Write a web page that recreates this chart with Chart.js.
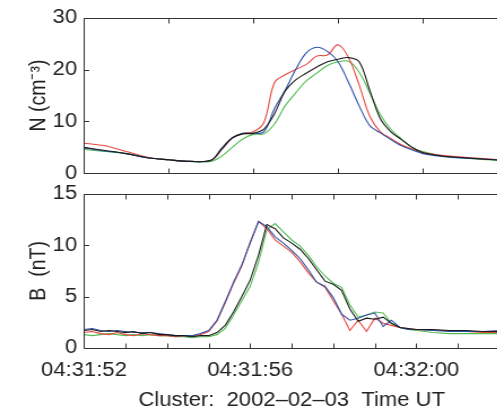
<!DOCTYPE html>
<html>
<head>
<meta charset="utf-8">
<script src="https://cdn.jsdelivr.net/npm/chart.js@4"></script>
<style>
  html, body { margin: 0; padding: 0; background: #fff; overflow: hidden; width: 497px; height: 410px; }
  canvas { position: absolute; left: 0; transform: scaleX(1.13); transform-origin: 0 0; }
  #nChart { top: 0; }
  #bChart { top: 176px; }
</style>
</head>
<body>
<canvas id="nChart" width="453" height="191"></canvas>
<canvas id="bChart" width="453" height="234"></canvas>
<script>
// время в секундах после 04:31:52
const tN = [0, 0.5, 1, 1.5, 2, 2.5, 3, 3.25, 3.5, 3.75, 4, 4.25, 4.5, 4.75, 5, 5.25, 5.5, 5.75, 6, 6.25, 6.5, 6.75, 7, 7.25, 7.5, 7.75, 8, 8.5, 9, 9.5, 10];
const nC1 = [5.0, 4.4, 3.8, 3.0, 2.6, 2.3, 2.5, 4.8, 6.8, 7.6, 7.7, 8.5, 11.5, 15.8, 18.0, 19.3, 20.5, 21.5, 22.0, 22.3, 21.5, 16.0, 10.5, 8.0, 6.5, 5.0, 4.0, 3.3, 3.0, 2.7, 2.4];
const nC2 = [5.8, 5.3, 4.2, 3.1, 2.6, 2.3, 2.5, 4.5, 6.8, 7.7, 8.0, 9.8, 17.5, 19.0, 20.0, 21.0, 22.6, 22.8, 24.8, 22.3, 17.0, 11.0, 8.0, 6.7, 5.5, 4.7, 4.0, 3.4, 3.1, 2.8, 2.5];
const nC3 = [4.6, 4.2, 3.8, 3.0, 2.6, 2.3, 2.3, 3.3, 5.0, 6.6, 7.5, 7.6, 9.5, 13.0, 15.5, 17.8, 19.3, 20.8, 21.5, 21.6, 19.5, 15.5, 11.3, 8.5, 6.6, 5.0, 4.2, 3.3, 2.9, 2.6, 2.4];
const nC4 = [4.9, 4.3, 3.8, 3.0, 2.6, 2.3, 2.5, 4.6, 6.8, 7.7, 7.7, 8.0, 12.5, 16.0, 20.0, 23.2, 24.3, 23.5, 21.5, 17.5, 13.0, 9.2, 7.8, 6.5, 5.3, 4.5, 3.8, 3.2, 2.9, 2.7, 2.5];

const tB = [0, 0.2, 0.4, 0.6, 0.8, 1, 1.2, 1.4, 1.6, 1.8, 2, 2.2, 2.4, 2.6, 2.8, 3, 3.2, 3.4, 3.6, 3.8, 4, 4.2, 4.4, 4.6, 4.8, 5, 5.2, 5.4, 5.6, 5.8, 6, 6.2, 6.4, 6.6, 6.8, 7, 7.2, 7.4, 7.6, 7.8, 8, 8.4, 8.8, 9.2, 9.6, 10];
const bC1 = [1.7, 1.8, 1.6, 1.7, 1.6, 1.5, 1.6, 1.4, 1.5, 1.3, 1.3, 1.2, 1.2, 1.1, 1.2, 1.2, 1.5, 2.2, 3.5, 5.0, 6.6, 9.0, 12.0, 11.6, 10.7, 10.2, 9.6, 8.7, 7.6, 6.5, 6.2, 5.6, 3.8, 2.6, 2.9, 2.8, 3.0, 2.4, 2.0, 1.9, 1.8, 1.8, 1.7, 1.7, 1.6, 1.6];
const bC2 = [1.5, 1.6, 1.4, 1.3, 1.5, 1.3, 1.2, 1.4, 1.3, 1.2, 1.2, 1.1, 1.2, 1.2, 1.3, 1.6, 2.6, 4.4, 6.3, 8.0, 10.3, 12.3, 11.6, 10.5, 9.9, 9.3, 8.4, 7.3, 6.4, 5.9, 4.6, 3.3, 1.7, 2.7, 1.6, 2.9, 2.4, 2.2, 2.0, 1.9, 1.8, 1.7, 1.7, 1.6, 1.5, 1.5];
const bC3 = [1.3, 1.2, 1.3, 1.4, 1.3, 1.2, 1.3, 1.2, 1.3, 1.2, 1.2, 1.1, 1.1, 1.0, 1.1, 1.1, 1.3, 1.9, 3.2, 4.6, 6.0, 8.3, 11.5, 12.1, 11.3, 10.5, 9.9, 9.0, 7.9, 7.0, 6.3, 5.9, 4.2, 3.0, 3.2, 3.5, 3.4, 2.4, 2.0, 1.8, 1.7, 1.5, 1.4, 1.4, 1.4, 1.4];
const bC4 = [1.8, 1.9, 1.7, 1.6, 1.7, 1.6, 1.5, 1.5, 1.5, 1.4, 1.3, 1.2, 1.2, 1.2, 1.4, 1.7, 2.7, 4.5, 6.4, 8.1, 10.2, 12.3, 11.8, 10.8, 10.2, 9.5, 8.7, 7.6, 6.4, 6.0, 4.9, 3.3, 2.7, 2.9, 3.2, 3.4, 2.1, 2.7, 2.0, 1.8, 1.8, 1.7, 1.6, 1.6, 1.6, 1.7];

// подписи оси времени
const labelTimes = [0, 4, 8];
const labelTexts = ['04:31:52', '04:31:56', '04:32:00'];

// C1 чёрный, C2 красный, C3 зелёный, C4 синий
const scColors = ['#1a1a1a', '#e5483f', '#52bd52', '#2f52a8'];
const FONT = "'Liberation Sans', Arial, Helvetica, sans-serif";

// рамка и внутренние засечки в стиле Matlab
const framePlugin = {
    id: 'frame',
    afterDatasetsDraw(chart) {
        const { ctx, chartArea: a, scales: { x, y } } = chart;
        ctx.save();
        ctx.strokeStyle = '#333';
        ctx.lineWidth = 1;
        const L = Math.round(a.left) + 0.5, T = Math.round(a.top) + 0.5, B = Math.round(a.bottom) + 0.5;
        ctx.beginPath();
        ctx.moveTo(chart.width, T); ctx.lineTo(L, T); ctx.lineTo(L, B); ctx.lineTo(chart.width, B);
        x.ticks.forEach(t => {
            const px = Math.round(x.getPixelForValue(t.value)) + 0.5;
            ctx.moveTo(px, B); ctx.lineTo(px, B - 5);
            ctx.moveTo(px, T); ctx.lineTo(px, T + 5);
        });
        y.ticks.forEach(t => {
            const py = Math.round(y.getPixelForValue(t.value)) + 0.5;
            ctx.moveTo(L, py); ctx.lineTo(L + 4.5, py);
        });
        ctx.stroke();
        ctx.restore();
    }
};

// C1 первым, чтобы он лежал поверх остальных
const drawOrder = [0, 3, 1, 2];

function makeSets(times, series) {
    return drawOrder.map(i => ({
        data: series[i].map((v, k) => ({ x: times[k], y: v })),
        borderColor: scColors[i],
        borderWidth: 1.1,
        pointRadius: 0,
        fill: false
    }));
}

function makeChart(id, sets, yMax, yStep, yTitle, xStep, bottomAxis, pad) {
    const ctx = document.getElementById(id).getContext('2d');
    return new Chart(ctx, {
        type: 'line',
        data: { datasets: sets },
        options: {
            responsive: false,
            animation: false,
            devicePixelRatio: 1,
            layout: { padding: pad },
            plugins: { legend: { display: false }, tooltip: { enabled: false } },
            elements: { line: { tension: bottomAxis ? 0 : 0.35 } },
            scales: {
                x: {
                    type: 'linear', min: 0, max: 10,
                    afterFit: s => { if (bottomAxis) s.height = 62; },
                    grid: { display: false, drawTicks: false },
                    border: { display: false },
                    ticks: {
                        display: bottomAxis,
                        stepSize: xStep,
                        autoSkip: false,
                        maxRotation: 0,
                        padding: 11,
                        color: '#222',
                        font: { family: FONT, size: 19.5 },
                        callback: v => {
                            const k = labelTimes.indexOf(v);
                            return k >= 0 ? labelTexts[k] : '';
                        }
                    },
                    title: {
                        display: bottomAxis,
                        text: 'Cluster:  2002\u201302\u201303  Time UT',
                        color: '#222',
                        font: { family: FONT, size: 19.5 },
                        padding: { top: 0, bottom: -2 }
                    }
                },
                y: {
                    min: 0, max: yMax,
                    afterFit: s => { s.width = 74.3; },
                    grid: { display: false, drawTicks: false },
                    border: { display: false },
                    ticks: {
                        stepSize: yStep,
                        padding: 6,
                        color: '#222',
                        font: { family: FONT, size: 19.5 }
                    },
                    title: {
                        display: true,
                        text: yTitle,
                        color: '#222',
                        font: { family: FONT, size: 19.5 },
                        padding: { top: 23, bottom: 0 }
                    }
                }
            }
        },
        plugins: [framePlugin]
    });
}

makeChart('nChart', makeSets(tN, [nC1, nC2, nC3, nC4]), 30, 10, 'N (cm\u207B\u00B3)', 2, false,
    { top: 16, bottom: 12, left: 0, right: 4 });
makeChart('bChart', makeSets(tB, [bC1, bC2, bC3, bC4]), 15, 5, 'B  (nT)', 1, true,
    { top: 16, bottom: 0, left: 0, right: 4 });
</script>
</body>
</html>
